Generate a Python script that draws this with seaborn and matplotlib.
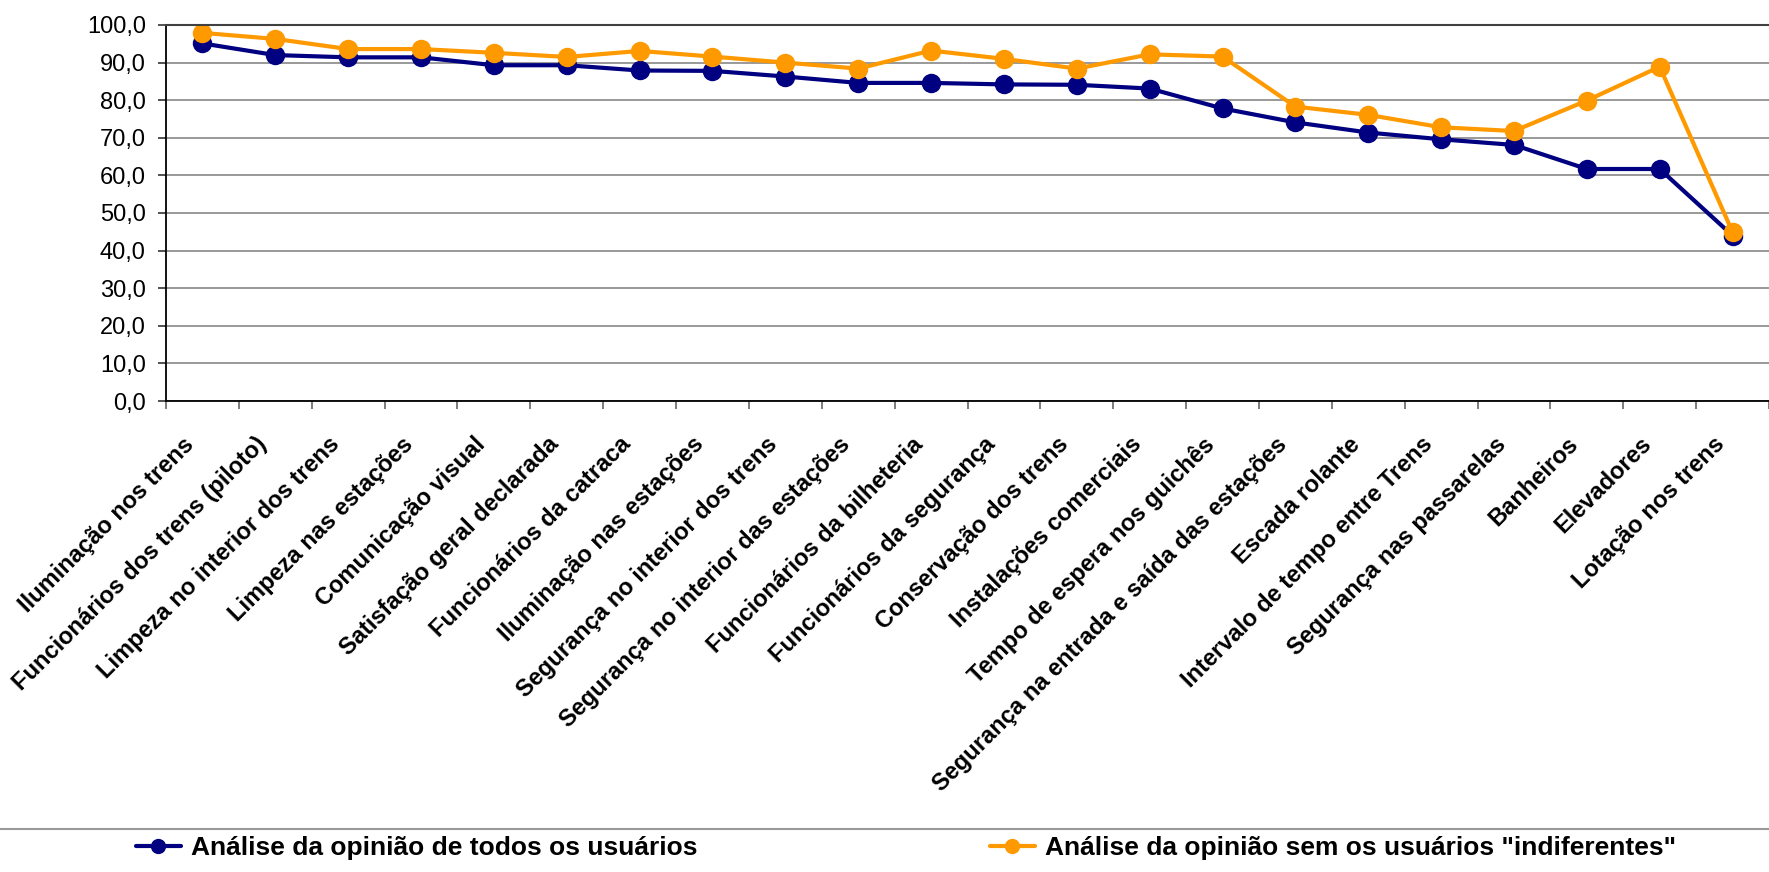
import numpy as np
import pandas as pd
import matplotlib
matplotlib.use("Agg")
import matplotlib.pyplot as plt
from matplotlib.lines import Line2D
from matplotlib.transforms import ScaledTranslation
from matplotlib.ticker import FuncFormatter, MultipleLocator, FixedLocator
import seaborn as sns

categorias = [
    "Iluminação nos trens",
    "Funcionários dos trens (piloto)",
    "Limpeza no interior dos trens",
    "Limpeza nas estações",
    "Comunicação visual",
    "Satisfação geral declarada",
    "Funcionários da catraca",
    "Iluminação nas estações",
    "Segurança no interior dos trens",
    "Segurança no interior das estações",
    "Funcionários da bilheteria",
    "Funcionários da segurança",
    "Conservação dos trens",
    "Instalações comerciais",
    "Tempo de espera nos guichês",
    "Segurança na entrada e saída das estações",
    "Escada rolante",
    "Intervalo de tempo entre Trens",
    "Segurança nas passarelas",
    "Banheiros",
    "Elevadores",
    "Lotação nos trens",
]

todos_usuarios = [95.1, 92.0, 91.4, 91.4, 89.3, 89.3, 87.9, 87.8, 86.3, 84.6,
                  84.6, 84.2, 84.1, 83.1, 77.8, 74.1, 71.4, 69.6, 68.1, 61.7,
                  61.7, 44.0]
sem_indiferentes = [97.9, 96.3, 93.6, 93.6, 92.6, 91.5, 93.1, 91.6, 90.0, 88.4,
                    93.2, 91.0, 88.4, 92.2, 91.6, 78.3, 76.1, 72.8, 71.8, 79.9,
                    88.9, 44.9]

serie_todos = "Análise da opinião de todos os usuários"
serie_sem = "Análise da opinião sem os usuários \"indiferentes\""
cores = {serie_todos: "#000080", serie_sem: "#FF9900"}

df = pd.DataFrame({
    "categoria": categorias * 2,
    "valor": todos_usuarios + sem_indiferentes,
    "serie": [serie_todos] * len(categorias) + [serie_sem] * len(categorias),
})

sns.set_theme(style="white")
plt.rcParams["font.family"] = ["Liberation Sans", "DejaVu Sans"]
plt.rcParams["text.color"] = "black"
plt.rcParams["xtick.color"] = "black"
plt.rcParams["ytick.color"] = "black"

W, H = 1769, 872
fig = plt.figure(figsize=(W / 100, H / 100), dpi=100)
ax = fig.add_axes([166 / W, 1 - 401 / H, (W - 166) / W, (401 - 25) / H])

sns.lineplot(data=df, x="categoria", y="valor", hue="serie",
             hue_order=[serie_todos, serie_sem], palette=cores,
             marker="o", markersize=14, markeredgewidth=0, linewidth=3,
             sort=False, legend=False, ax=ax)

ax.set_xlim(-0.5, len(categorias) - 0.5)
ax.set_ylim(0, 100)
ax.set_xlabel("")
ax.set_ylabel("")

# y axis: gridlines every 10 with comma decimal labels
ax.yaxis.set_major_locator(MultipleLocator(10))
ax.yaxis.set_major_formatter(FuncFormatter(lambda v, p: f"{v:.1f}".replace(".", ",")))
ax.grid(axis="y", color="#999999", linewidth=1.4)
ax.grid(axis="x", visible=False)
ax.tick_params(axis="y", which="major", left=True, length=6, width=1.2,
               color="#333333", labelsize=17, pad=8.5, labelcolor="black")

# x axis: labels at category centres, tick marks at boundaries
ax.set_xticks(range(len(categorias)))
ax.set_xticklabels(categorias, rotation=45, ha="right", rotation_mode="anchor",
                   fontsize=17, fontweight="bold", color="black")
ax.tick_params(axis="x", which="major", bottom=False, length=0, pad=12)
ax.xaxis.set_minor_locator(FixedLocator(np.arange(-0.5, len(categorias), 1.0)))
ax.tick_params(axis="x", which="minor", bottom=True, length=6, width=1.2,
               color="#666666")
shift = ScaledTranslation(-20 / 100, -15 / 100, fig.dpi_scale_trans)
for lbl in ax.get_xticklabels():
    lbl.set_transform(lbl.get_transform() + shift)

for side in ("left", "bottom"):
    ax.spines[side].set_color("black")
    ax.spines[side].set_linewidth(1.3)
ax.spines["top"].set_color("#404040")
ax.spines["top"].set_linewidth(1.5)
ax.spines["right"].set_visible(False)

# legend strip along the bottom
fig.add_artist(Line2D([0, 1], [1 - 829 / H, 1 - 829 / H],
                      transform=fig.transFigure, color="#999999", linewidth=1.5))

for serie, x0 in [(serie_todos, 136 / W), (serie_sem, 990 / W)]:
    h = Line2D([], [], color=cores[serie], marker="o", markersize=11,
               markeredgewidth=0, linewidth=3)
    fig.legend(handles=[h], labels=[serie], loc="center left",
               bbox_to_anchor=(x0, 1 - 848 / H), frameon=False,
               borderpad=0, borderaxespad=0, handlelength=1.7,
               handletextpad=0.4, labelcolor="black",
               prop={"weight": "bold", "size": 19})

fig.savefig("out.png", dpi=100, facecolor="white")
